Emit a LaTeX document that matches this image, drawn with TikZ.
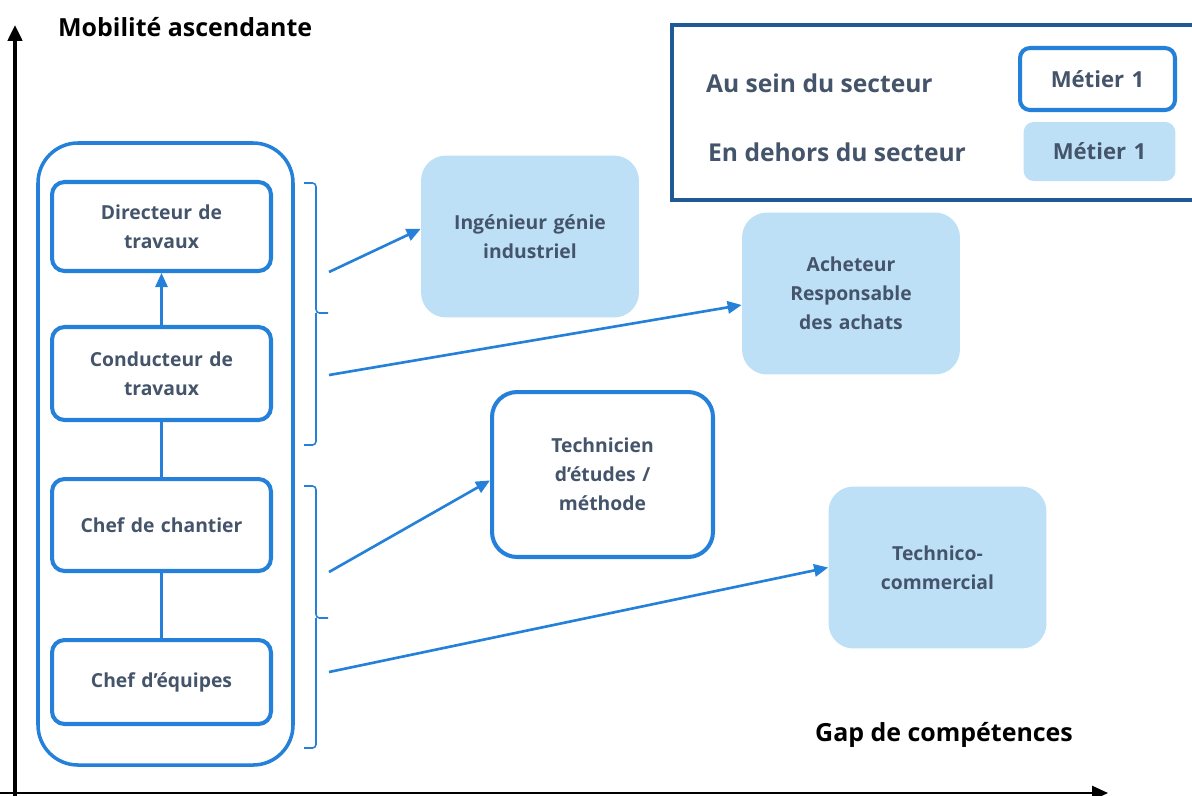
\documentclass[tikz,border=0pt]{standalone}
\usepackage{fontspec}
\setmainfont{Open Sans}
\usetikzlibrary{arrows.meta,positioning}
\definecolor{jobblue}{HTML}{2480D8}
\definecolor{joblight}{HTML}{BEE0F7}
\definecolor{jobtext}{HTML}{44546A}
\definecolor{legendblue}{HTML}{1F5A96}

\begin{document}
\begin{tikzpicture}[x=0.02cm,y=-0.02cm,
	jobfont/.style={text=jobtext,font=\fontsize{11}{16.4}\selectfont\bfseries},
	inside/.style={jobfont,draw=jobblue,line width=2.3pt,fill=white,rounded corners=0.25cm,
		minimum width=4.38cm,text width=4.1cm,align=center},
	outside/.style={jobfont,fill=joblight,rounded corners=0.5cm,
		minimum width=4.36cm,minimum height=3.24cm,text width=3.9cm,align=center},
	axislabel/.style={anchor=west,font=\fontsize{14.2}{17}\selectfont\bfseries},
	legendtext/.style={anchor=west,text=jobtext,font=\fontsize{14}{17}\selectfont\bfseries},
	link/.style={draw=jobblue,line width=1.5pt,-{Triangle[length=8pt,width=7pt]}},
	brace/.style={draw=jobblue,line width=0.9pt,rounded corners=2pt}]
	\useasboundingbox (0,0) rectangle (1192,795);

	% axes
	\draw [line width=2.2pt,-{Triangle[length=9pt,width=8pt]}] (15,800) -- (15,25);
	\draw [line width=1.2pt,-{Triangle[length=9pt,width=8pt]}] (0,793) -- (1108,793);
	\node [axislabel] (ylab) at (52,27) {Mobilité ascendante};
	\node [axislabel] (xlab) at (809,735) {Gap de compétences};

	% filiere du secteur
	\draw [jobblue,line width=2pt,rounded corners=0.8cm] (38,143) rectangle (293,765);
	\node [inside,minimum height=1.78cm] (dir) at (161.5,226.5) {Directeur de\\travaux};
	\node [inside,minimum height=1.86cm] (cond) at (161.5,373.5) {Conducteur de\\travaux};
	\node [inside,minimum height=1.84cm] (chef) at (161.5,525) {Chef de chantier};
	\node [inside,minimum height=1.68cm] (equip) at (161.5,682) {Chef d’équipes};
	\draw [link,line width=1.2pt] (cond) -- (dir);
	\draw [jobblue,line width=1.2pt] (chef) -- (cond);
	\draw [jobblue,line width=1.2pt] (equip) -- (chef);

	% accolades
	\draw [brace] (304,183) -| (316,313) -- (328,313);
	\draw [brace] (316,313) |- (304,445);
	\draw [brace] (304,486) -| (316,618) -- (328,618);
	\draw [brace] (316,618) |- (304,748);

	% passerelles
	\node [outside] (ing) at (530,236.5) {Ingénieur génie\\industriel};
	\node [outside] (ach) at (851,293.5) {Acheteur\\Responsable\\des achats};
	\node [inside,rounded corners=0.5cm,minimum width=4.42cm,minimum height=3.3cm,text width=3.9cm] (tech) at (602.5,474.5) {Technicien\\d’études /\\méthode};
	\node [outside] (comm) at (937.5,567.5) {Technico-\\commercial};

	\coordinate (s1) at (329,272);
	\coordinate (s2) at (329,375);
	\coordinate (s3) at (329,572);
	\coordinate (s4) at (329,672);
	\draw [link] (s1) -- (ing.176);
	\draw [link] (s2) -- (ach.186);
	\draw [link] (s3) -- (tech.183);
	\draw [link] (s4) -- (comm.west);

	% legende
	\draw [legendblue,line width=2.4pt] (672,25) rectangle (1205,200);
	\node [legendtext] (insec) at (700,83) {Au sein du secteur};
	\node [legendtext] (outsec) at (702,152) {En dehors du secteur};
	\node [inside,font=\fontsize{12.6}{15}\selectfont\bfseries,minimum width=3.1cm,minimum height=1.24cm,text width=2.8cm,rounded corners=0.2cm] (leg1) at (1097.5,79) {Métier 1};
	\node [outside,font=\fontsize{12.6}{15}\selectfont\bfseries,minimum width=3.02cm,minimum height=1.18cm,text width=2.8cm,rounded corners=0.2cm] (leg2) at (1099.5,151.5) {Métier 1};
\end{tikzpicture}
\end{document}
